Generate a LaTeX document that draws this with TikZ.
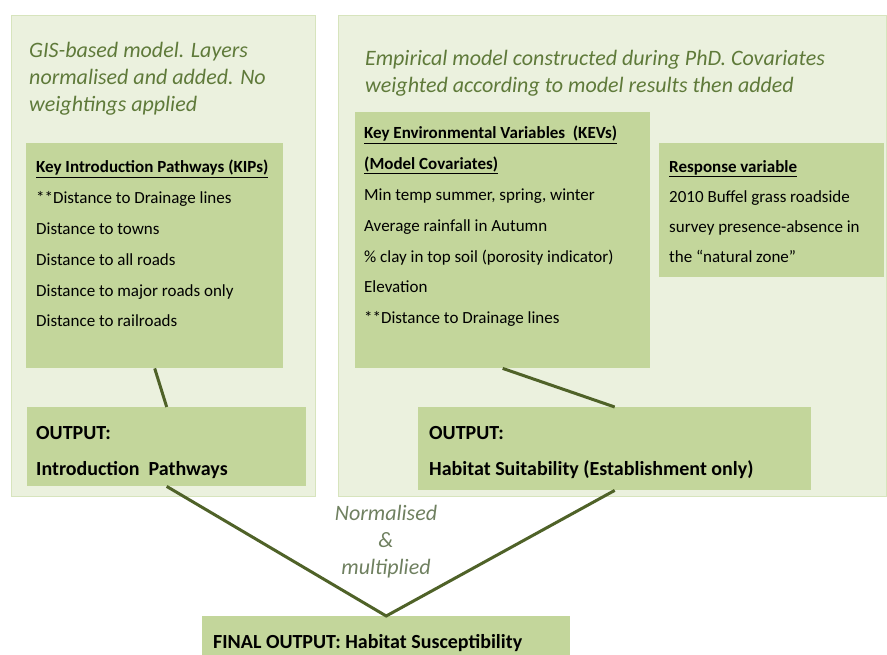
\documentclass[tikz,border=0pt]{standalone}
\usepackage{fontspec}
\setmainfont{Carlito}
\definecolor{panelfill}{HTML}{EBF1DE}
\definecolor{paneldraw}{HTML}{D7E4BD}
\definecolor{boxfill}{HTML}{C3D69B}
\definecolor{linkcol}{HTML}{4F6228}
\definecolor{notecol}{HTML}{5F7A3A}
\definecolor{mergecol}{HTML}{6F8060}
\tikzset{
  panel/.style={draw=paneldraw,fill=panelfill,line width=1pt,anchor=north west,inner sep=0pt},
  greenbox/.style={fill=boxfill,anchor=north west,inner sep=0pt},
  note/.style={anchor=north west,inner sep=0pt,align=left,text=notecol,font=\fontsize{22}{27}\selectfont\itshape},
  body/.style={anchor=north west,inner sep=0pt,align=left,font=\fontsize{17}{30.8}\selectfont},
  outtext/.style={anchor=north west,inner sep=0pt,align=left,font=\fontsize{20}{36}\selectfont\bfseries},
  link/.style={draw=linkcol,line width=3pt}
}
\begin{document}
\begin{tikzpicture}[x=1pt,y=-1pt]
            \useasboundingbox (0,0) rectangle (887,655);
            % two model panels
            \node[panel,minimum width=304pt,minimum height=481pt] (gispanel) at (11,15) {};
            \node[panel,minimum width=548pt,minimum height=481pt] (emppanel) at (338,15) {};
            \node[note] (gisnote) at (29,42) {GIS-based model. Layers\\normalised and added. No\\weightings applied};
            \node[note] (empnote) at (365,50) {Empirical model constructed during PhD. Covariates\\weighted according to model results then added};
            % green boxes
            \node[greenbox,minimum width=257pt,minimum height=225pt] (kip) at (26,143) {};
            \node[greenbox,minimum width=295pt,minimum height=256pt] (kev) at (355,112) {};
            \node[greenbox,minimum width=225pt,minimum height=134pt] (resp) at (659,143) {};
            \node[greenbox,minimum width=279pt,minimum height=79pt] (outleft) at (27,407) {};
            \node[greenbox,minimum width=393pt,minimum height=83pt] (outright) at (418,407) {};
            \node[greenbox,minimum width=368pt,minimum height=60pt] (final) at (202,616) {};
            % box texts
            \node[body] (kiptext) at (36,160) {\textbf{\underline{Key Introduction Pathways (KIPs)}}\\
                **Distance to Drainage lines\\Distance to towns\\Distance to all roads\\
                Distance to major roads only\\Distance to railroads};
            \node[body] (kevtext) at (364,126) {\textbf{\underline{Key Environmental Variables~ (KEVs)}}\\
                \textbf{\underline{(Model Covariates)}}\\Min temp summer, spring, winter\\
                Average rainfall in Autumn\\\% clay in top soil (porosity indicator)\\
                Elevation\\**Distance to Drainage lines};
            \node[body,font=\fontsize{17}{30}\selectfont] (resptext) at (669,160) {\textbf{\underline{Response variable}}\\
                2010 Buffel grass roadside\\survey presence-absence in\\the “natural zone”};
            \node[outtext] (outlefttext) at (36,426) {OUTPUT:\\Introduction~ Pathways};
            \node[outtext] (outrighttext) at (429,426) {OUTPUT:\\Habitat Suitability (Establishment only)};
            \node[outtext] (finaltext) at (213,634) {FINAL OUTPUT: Habitat Susceptibility};
            % connectors
            \draw[link] (kip.south) -- (outleft.north);
            \draw[link] (kev.south) -- (outright.north);
            \draw[link] (outleft.south) -- (final.north) -- (outright.south);
            \node[align=center,text=mergecol,font=\fontsize{22}{27}\selectfont\itshape] (merge) at (386,542) {Normalised\\\&\\multiplied};
        \end{tikzpicture}
\end{document}
